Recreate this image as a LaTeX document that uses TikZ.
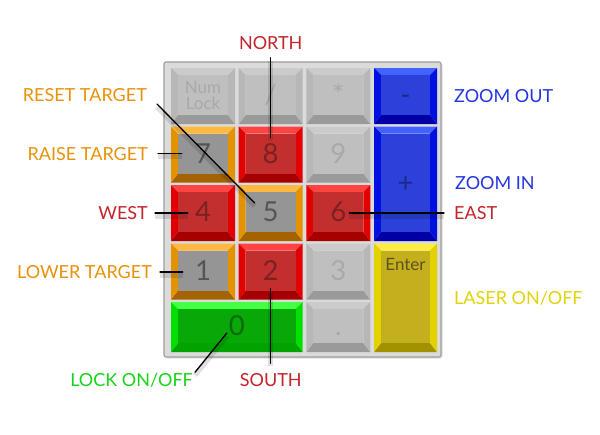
\documentclass[tikz,border=0pt]{standalone}
\usepackage{fontspec}
\setmainfont{Lato}
\usepackage{xcolor}
\usepackage{tikz}
\usetikzlibrary{positioning,calc,shadows}
\tikzset{
  padline/.style={line width=1.3pt, draw=black, line cap=round,
    preaction={draw=black, opacity=0.12, line width=5pt, transform canvas={yshift=-3pt}}},
  padlabel/.style={font=\fontsize{18}{18}\selectfont, inner sep=0pt, text height=13pt, text depth=0pt},
  keyface/.style={rectangle, inner sep=0pt, draw=none},
  keydigit/.style={font=\fontsize{27.5}{27.5}\selectfont, text height=19.7pt, text depth=0pt},
  keytag/.style={font=\fontsize{17}{16}\selectfont, align=center}
}
% key palettes: top bevel, sides, bottom bevel, face, legend
\definecolor{GrayTop}{HTML}{CBCBCB}
\definecolor{GraySide}{HTML}{B7B7B7}
\definecolor{GrayBot}{HTML}{9A9A9A}
\definecolor{GrayFace}{HTML}{BFBFBF}
\definecolor{GrayText}{HTML}{A9A9A9}
\definecolor{AmberTop}{HTML}{FFB941}
\definecolor{AmberSide}{HTML}{E49200}
\definecolor{AmberBot}{HTML}{A36300}
\definecolor{AmberFace}{HTML}{959595}
\definecolor{AmberText}{HTML}{555555}
\definecolor{RedTop}{HTML}{FF4242}
\definecolor{RedSide}{HTML}{E30000}
\definecolor{RedBot}{HTML}{A60000}
\definecolor{RedFace}{HTML}{C32F2F}
\definecolor{RedText}{HTML}{7A2222}
\definecolor{BlueTop}{HTML}{4262FF}
\definecolor{BlueSide}{HTML}{0010E2}
\definecolor{BlueBot}{HTML}{0000A6}
\definecolor{BlueFace}{HTML}{2B41DA}
\definecolor{BlueText}{HTML}{1B2A82}
\definecolor{LaserTop}{HTML}{FFEC42}
\definecolor{LaserSide}{HTML}{E3D100}
\definecolor{LaserBot}{HTML}{A39200}
\definecolor{LaserFace}{HTML}{C4B01C}
\definecolor{LaserText}{HTML}{5A5222}
\definecolor{LockTop}{HTML}{44FF44}
\definecolor{LockSide}{HTML}{00E000}
\definecolor{LockBot}{HTML}{00A300}
\definecolor{LockFace}{HTML}{08A808}
\definecolor{LockText}{HTML}{0B6A0B}
\definecolor{PadRed}{HTML}{C4242B}
\definecolor{PadAmber}{HTML}{E8920C}
\definecolor{PadGreen}{HTML}{18D418}
\definecolor{PadBlue}{HTML}{2436E0}
\definecolor{PadYellow}{HTML}{E2D40A}

% #1 name, #2 palette, #3 left, #4 top, #5 width, #6 height, #7 text, #8 text style
\newcommand{\padkey}[8]{%
  \fill[#2Top] (#3,#4) -- ++(#5,0) -- ++(-7,7) -- ++(14-#5,0) -- cycle;
  \fill[#2Bot] (#3,#4+#6) -- ++(#5,0) -- ++(-7,-9) -- ++(14-#5,0) -- cycle;
  \fill[#2Side] (#3,#4) -- ++(7,7) -- ++(0,#6-16) -- ++(-7,9) -- cycle;
  \fill[#2Side] (#3+#5,#4) -- ++(-7,7) -- ++(0,#6-16) -- ++(7,9) -- cycle;
  \node[keyface, fill=#2Face, text=#2Text, minimum width=#5pt-14pt,
    minimum height=#6pt-16pt, #8] (#1) at (#3+#5/2,#4+#6/2-1) {#7};
}

\begin{document}
\begin{tikzpicture}[x=1pt, y=-1pt]
\useasboundingbox (0,0) rectangle (600,434);
\fill[white] (0,0) rectangle (600,434);
\draw[fill=black!14, draw=black!38, line width=1.2pt, rounded corners=2pt,
  drop shadow={opacity=0.25, shadow xshift=1.5pt, shadow yshift=-1.5pt}] (164,62) rectangle (441,357);

\padkey{knum}{Gray}{171}{68}{64}{56}{Num\\Lock}{keytag}
\padkey{kdiv}{Gray}{238.7}{68}{64}{56}{/}{keydigit}
\padkey{kmul}{Gray}{306.3}{68}{64}{56}{*}{keydigit}
\padkey{kminus}{Blue}{374}{68}{63}{56}{-}{keydigit}
\padkey{k7}{Amber}{171}{126.5}{64}{56}{7}{keydigit}
\padkey{k8}{Red}{238.7}{126.5}{64}{56}{8}{keydigit}
\padkey{k9}{Gray}{306.3}{126.5}{64}{56}{9}{keydigit}
\padkey{kplus}{Blue}{374}{126.5}{63}{114.5}{+}{keydigit}
\padkey{k4}{Red}{171}{185}{64}{56}{4}{keydigit}
\padkey{k5}{Amber}{238.7}{185}{64}{56}{5}{keydigit}
\padkey{k6}{Red}{306.3}{185}{64}{56}{6}{keydigit}
\padkey{k1}{Amber}{171}{243.5}{64}{56}{1}{keydigit}
\padkey{k2}{Red}{238.7}{243.5}{64}{56}{2}{keydigit}
\padkey{k3}{Gray}{306.3}{243.5}{64}{56}{3}{keydigit}
\padkey{kenter}{Laser}{374}{243.5}{63}{108.5}{Enter}{keytag, text height=12pt, text depth=64pt}
\padkey{k0}{Lock}{171}{302}{131.7}{50}{0}{keydigit}
\padkey{kdot}{Gray}{306.3}{302}{64}{50}{.}{keydigit}

\node[padlabel, text=PadRed] (north) at (270.7,43) {NORTH};
\node[padlabel, text=PadAmber, anchor=east] (resettarget) at (147,95) {RESET TARGET};
\node[padlabel, text=PadAmber, anchor=east] (raisetarget) at (148,153.5) {RAISE TARGET};
\node[padlabel, text=PadRed, anchor=east] (west) at (148,213) {WEST};
\node[padlabel, text=PadAmber, anchor=east] (lowertarget) at (152,272) {LOWER TARGET};
\node[padlabel, text=PadGreen, anchor=east] (lockonoff) at (193,380) {LOCK ON/OFF};
\node[padlabel, text=PadRed] (south) at (270.7,380) {SOUTH};
\node[padlabel, text=PadBlue, anchor=west] (zoomout) at (454,96) {ZOOM OUT};
\node[padlabel, text=PadBlue, anchor=west] (zoomin) at (455,183) {ZOOM IN};
\node[padlabel, text=PadRed, anchor=west] (east) at (454,213) {EAST};
\node[padlabel, text=PadYellow, anchor=west] (laseronoff) at (454,298) {LASER ON/OFF};

\draw[padline] ($(north.south)+(0,8)$) -- ($(k8.north)+(0,4)$);
\draw[padline] ($(resettarget.east)+(10,9)$) -- ($(k5.center)+(-16,-9)$);
\draw[padline] ($(raisetarget.east)+(10,0)$) -- ($(raisetarget.east -| k7.west)+(4,0)$);
\draw[padline] ($(west.east)+(7,0)$) -- ($(west.east -| k4.west)+(10,0)$);
\draw[padline] ($(lowertarget.east)+(8,0)$) -- ($(lowertarget.east -| k1.west)+(5,0)$);
\draw[padline] ($(lockonoff.north east)+(2,-1)$) -- ($(k0.center)+(-10,7)$);
\draw[padline] ($(k2.south)+(0,-2)$) -- ($(south.north)+(0,-10)$);
\draw[padline] ($(east.west -| k6.center)+(11,0)$) -- ($(east.west)+(-10,0)$);
\end{tikzpicture}
\end{document}
